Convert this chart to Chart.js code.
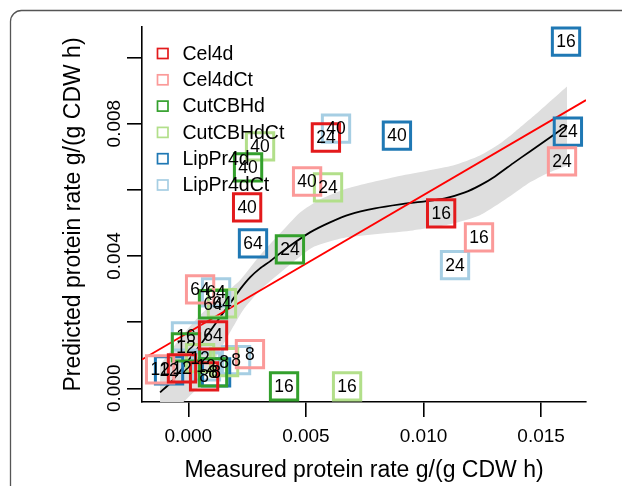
<!DOCTYPE html>
<html>
<head>
<meta charset="utf-8">
<script src="https://cdn.jsdelivr.net/npm/chart.js@4.4.1/dist/chart.umd.min.js"></script>
<style>
  html, body { margin: 0; padding: 0; background: #ffffff; }
  #wrap { width: 622px; height: 486px; }
</style>
</head>
<body>
<div id="wrap"><canvas id="c" width="622" height="486"></canvas></div>
<script>
// ---------------- DATA ----------------
const categories = ['Cel4d', 'Cel4dCt', 'CutCBHd', 'CutCBHdCt', 'LipPr4d', 'LipPr4dCt'];
const seriesColors = ['#E31A1C', '#FB9A99', '#33A02C', '#B2DF8A', '#1F78B4', '#A6CEE3'];

// measured (x), predicted (y), time label for each point
const cel4dX     = [0.00585, 0.00250, 0.01075, 0.00105, 0.00067, -0.00027];
const cel4dY     = [0.00758, 0.00547, 0.00529, 0.00160, 0.00036, 0.00060];
const cel4dLab   = ['24', '40', '16', '64', '8', '12'];

const cel4dCtX   = [0.01589, 0.00505, 0.01236, 0.00050, 0.00262, -0.00120];
const cel4dCtY   = [0.00686, 0.00625, 0.00456, 0.00299, 0.00103, 0.00057];
const cel4dCtLab = ['24', '40', '16', '64', '8', '12'];

const cutX       = [0.00254, 0.00432, 0.00407, 0.00105, 0.00105, -0.00010];
const cutY       = [0.00668, 0.00420, 0.00006, 0.00254, 0.00048, 0.00124];
const cutLab     = ['40', '24', '16', '64', '8', '12'];

const cutCtX     = [0.00305, 0.00594, 0.00675, 0.00143, 0.00152, 0.00050];
const cutCtY     = [0.00731, 0.00607, 0.00006, 0.00257, 0.00079, 0.00091];
const cutCtLab   = ['40', '24', '16', '64', '8', '12'];

const lipX       = [0.01606, 0.00887, 0.01614, 0.00275, -0.00082, 0.00118];
const lipY       = [0.01048, 0.00764, 0.00776, 0.00438, 0.00054, 0.00048];
const lipLab     = ['16', '40', '24', '64', '12', '8'];

const lipCtX     = [0.00628, 0.01134, 0.00118, -0.00010, 0.00203, 0.00075];
const lipCtY     = [0.00785, 0.00372, 0.00290, 0.00157, 0.00085, 0.00066];
const lipCtLab   = ['40', '24', '64', '16', '8', '12'];

// linear fit line (end points at the plot edges)
const fitX = [-0.00197, 0.01691];
const fitY = [0.00087, 0.00871];

// smooth (loess) curve and its confidence band
const smoothX = [-0.001203, -0.000778, -0.000353, 0.000072, 0.000497, 0.000923, 0.001348, 0.001773, 0.002198, 0.002624, 0.003049, 0.003474, 0.003899, 0.004537, 0.005174, 0.006025, 0.006875, 0.007938, 0.009001, 0.010064, 0.010914, 0.011764, 0.012402, 0.013040, 0.013805, 0.014528, 0.015378, 0.016101];
const smoothY = [-0.000121, 0.000151, 0.000514, 0.000906, 0.001299, 0.001722, 0.002145, 0.002568, 0.002991, 0.003353, 0.003625, 0.003837, 0.004079, 0.004411, 0.004713, 0.005015, 0.005257, 0.005438, 0.005559, 0.005650, 0.005740, 0.005921, 0.006133, 0.006405, 0.006798, 0.007160, 0.007583, 0.007946];
const bandUpX = [-0.001203, -0.000353, 0.000497, 0.001348, 0.002198, 0.003049, 0.003899, 0.004749, 0.005599, 0.006747, 0.008873, 0.011254, 0.012402, 0.013253, 0.013805, 0.014953, 0.016101];
const bandUpY = [0.000695, 0.001511, 0.002205, 0.002749, 0.003263, 0.004018, 0.004683, 0.005317, 0.005710, 0.006042, 0.006405, 0.006737, 0.007039, 0.007402, 0.007704, 0.008399, 0.009124];
const bandLoX = [-0.001203, -0.000353, 0.000497, 0.001348, 0.002326, 0.003049, 0.003984, 0.005302, 0.006747, 0.009554, 0.011127, 0.012402, 0.013678, 0.014528, 0.015251, 0.016101];
const bandLoY = [-0.001118, -0.000514, 0.000091, 0.001148, 0.002356, 0.002961, 0.003535, 0.004260, 0.004562, 0.004773, 0.004955, 0.005227, 0.005801, 0.006224, 0.006495, 0.006737];

// axes
const xTicks = [0, 0.005, 0.010, 0.015];
const xTickLabels = ['0.000', '0.005', '0.010', '0.015'];
const yTicks = [0, 0.002, 0.004, 0.006, 0.008, 0.010];
const yLabelValues = [0, 0.004, 0.008];
const yTickLabels = ['0.000', '0.004', '0.008'];
const xTitle = 'Measured protein rate g/(g CDW h)';
const yTitle = 'Predicted protein rate g/(g CDW h)';
const xRange = [-0.00197, 0.01691];
const yRange = [-0.000414, 0.01092];

// ---------------- BUILD ----------------
const seriesX = [cel4dX, cel4dCtX, cutX, cutCtX, lipX, lipCtX];
const seriesY = [cel4dY, cel4dCtY, cutY, cutCtY, lipY, lipCtY];
const seriesLab = [cel4dLab, cel4dCtLab, cutLab, cutCtLab, lipLab, lipCtLab];
const zip = (xs, ys) => xs.map((x, i) => ({x: x, y: ys[i]}));

const FONT = "'Liberation Sans', Arial, Helvetica, sans-serif";

const datasets = [];
categories.forEach((name, i) => {
  datasets.push({
    type: 'scatter',
    label: name,
    data: zip(seriesX[i], seriesY[i]),
    labelsText: seriesLab[i],
    isSeries: true,
    pointStyle: 'rect',
    pointRadius: 19.3,
    pointHoverRadius: 19.3,
    pointBorderWidth: 3,
    pointBorderColor: seriesColors[i],
    pointBackgroundColor: 'rgba(0,0,0,0)',
    clip: false
  });
});
datasets.push({
  type: 'line', label: 'fit', data: zip(fitX, fitY),
  borderColor: '#FF0000', borderWidth: 1.8, pointRadius: 0, fill: false, tension: 0
});
datasets.push({
  type: 'line', label: 'smooth', data: zip(smoothX, smoothY),
  borderColor: '#000000', borderWidth: 1.8, pointRadius: 0, fill: false, tension: 0.2
});
datasets.push({
  type: 'line', label: 'bandUp', data: zip(bandUpX, bandUpY),
  borderWidth: 0, borderColor: 'rgba(0,0,0,0)', pointRadius: 0,
  backgroundColor: '#DEDEDE', fill: '+1', tension: 0.2
});
datasets.push({
  type: 'line', label: 'bandLo', data: zip(bandLoX, bandLoY),
  borderWidth: 0, borderColor: 'rgba(0,0,0,0)', pointRadius: 0,
  fill: false, tension: 0.2
});

const framePlugin = {
  id: 'frame',
  beforeDraw(chart) {
    const ctx = chart.ctx;
    ctx.save();
    ctx.fillStyle = '#ffffff';
    ctx.fillRect(0, 0, chart.width, chart.height);
    ctx.strokeStyle = '#555555';
    ctx.lineWidth = 1.3;
    ctx.beginPath();
    ctx.moveTo(10.5, 500);
    ctx.lineTo(10.5, 22);
    ctx.arcTo(10.5, 10.5, 22, 10.5, 11);
    ctx.lineTo(640, 10.5);
    ctx.stroke();
    ctx.restore();
  }
};

const textPlugin = {
  id: 'texts',
  afterDatasetsDraw(chart) {
    const ctx = chart.ctx;
    ctx.save();
    ctx.fillStyle = '#000000';
    ctx.font = '17.5px ' + FONT;
    ctx.textAlign = 'center';
    ctx.textBaseline = 'middle';
    chart.data.datasets.forEach((ds, di) => {
      if (!ds.isSeries) return;
      const meta = chart.getDatasetMeta(di);
      meta.data.forEach((el, j) => {
        ctx.fillText(ds.labelsText[j], el.x, el.y + 1);
      });
    });
    ctx.restore();
  },
  afterDraw(chart) {
    const ctx = chart.ctx;
    const ys = chart.scales.y;
    const area = chart.chartArea;
    ctx.save();
    ctx.fillStyle = '#000000';
    // y tick labels (rotated, as in the original)
    ctx.font = '19px ' + FONT;
    ctx.textAlign = 'center';
    ctx.textBaseline = 'alphabetic';
    yLabelValues.forEach((v, i) => {
      const py = ys.getPixelForValue(v);
      ctx.save();
      ctx.translate(120, py);
      ctx.rotate(-Math.PI / 2);
      ctx.fillText(yTickLabels[i], 0, 0);
      ctx.restore();
    });
    // y title
    ctx.font = '23px ' + FONT;
    ctx.save();
    ctx.translate(80, (area.top + area.bottom) / 2);
    ctx.rotate(-Math.PI / 2);
    ctx.fillText(yTitle, 0, 0);
    ctx.restore();
    // legend
    ctx.font = '19.5px ' + FONT;
    ctx.textAlign = 'left';
    ctx.textBaseline = 'middle';
    categories.forEach((name, i) => {
      const cy = 53.5 + i * 26.3;
      ctx.strokeStyle = seriesColors[i];
      ctx.lineWidth = 1.7;
      ctx.strokeRect(157.5, cy - 5, 10.5, 10);
      ctx.fillStyle = '#000000';
      ctx.fillText(name, 182.5, cy + 1);
    });
    ctx.restore();
  }
};

new Chart(document.getElementById('c'), {
  data: { datasets: datasets },
  options: {
    responsive: false,
    animation: false,
    devicePixelRatio: 1,
    layout: { padding: { left: 0, top: 27, right: 36, bottom: 0 } },
    plugins: { legend: { display: false }, tooltip: { enabled: false } },
    scales: {
      x: {
        type: 'linear', min: xRange[0], max: xRange[1],
        afterBuildTicks(scale) { scale.ticks = xTicks.map(v => ({value: v})); },
        afterFit(scale) { scale.height = 84; },
        grid: { drawOnChartArea: false, drawTicks: true, tickLength: 15, color: '#000000', lineWidth: 1.6 },
        border: { display: true, color: '#000000', width: 1.6 },
        ticks: {
          color: '#000000', font: { family: FONT, size: 19 }, padding: 8, maxRotation: 0, autoSkip: false,
          callback: (v) => { const k = xTicks.indexOf(v); return k >= 0 ? xTickLabels[k] : ''; }
        },
        title: { display: true, text: xTitle, color: '#000000', font: { family: FONT, size: 23 }, padding: { top: 0, bottom: 2 } }
      },
      y: {
        type: 'linear', min: yRange[0], max: yRange[1],
        afterBuildTicks(scale) { scale.ticks = yTicks.map(v => ({value: v})); },
        afterFit(scale) { scale.width = 142; },
        grid: { drawOnChartArea: false, drawTicks: true, tickLength: 15, color: '#000000', lineWidth: 1.6 },
        border: { display: true, color: '#000000', width: 1.6 },
        ticks: { display: false }
      }
    }
  },
  plugins: [framePlugin, textPlugin]
});
</script>
</body>
</html>
